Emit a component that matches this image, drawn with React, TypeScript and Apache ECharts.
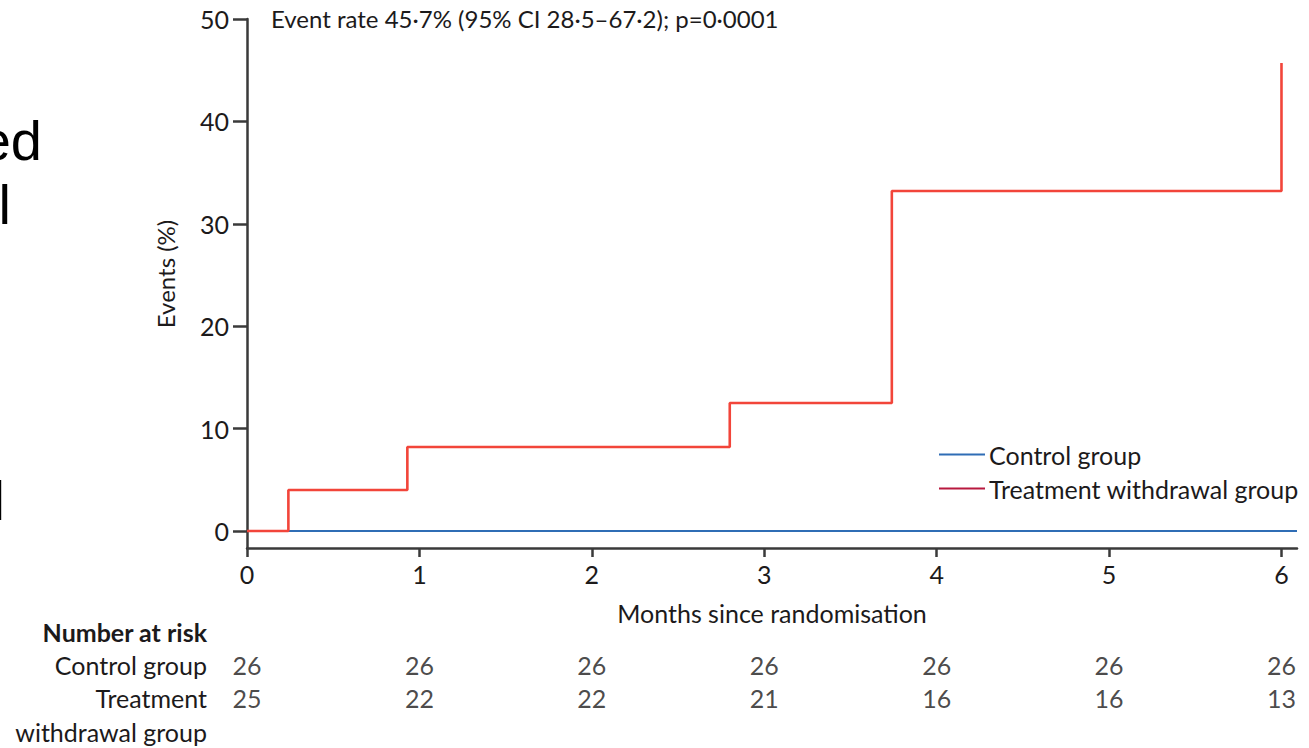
import React, { useEffect, useRef } from "react";
import * as echarts from "echarts";

// Kaplan–Meier style cumulative event curves
const monthTicks = [0, 1, 2, 3, 4, 5, 6];
const eventTicks = [0, 10, 20, 30, 40, 50];

const treatmentTimes = [0, 0.24, 0.93, 2.8, 3.74, 6.0];
const treatmentEvents = [0, 4.0, 8.2, 12.5, 33.2, 45.7];

const controlTimes = [0, 6.09];
const controlEvents = [0, 0];

// Number at risk at each month
const controlAtRisk = [26, 26, 26, 26, 26, 26, 26];
const treatmentAtRisk = [25, 22, 22, 21, 16, 16, 13];

const FONT = "Lato";
const TEXT = "#1c1a1b";
const AXIS = "#3a3a3a";
const FS = 25;

export default function App() {
  const ref = useRef<HTMLDivElement>(null);

  useEffect(() => {
    if (!ref.current) return;
    const chart = echarts.init(ref.current, undefined, { renderer: "svg" });

    const treatmentData = treatmentTimes.map((t, i) => [t, treatmentEvents[i]]);
    const controlData = controlTimes.map((t, i) => [t, controlEvents[i]]);
    const riskData = [
      ...monthTicks.map((m, i) => [m, 1, controlAtRisk[i]]),
      ...monthTicks.map((m, i) => [m, 0, treatmentAtRisk[i]]),
    ];

    const rowLabel = (text: string, y: number, bold = false) => ({
      type: "text",
      x: 207,
      y,
      style: {
        text,
        align: "right",
        verticalAlign: "middle",
        fontSize: FS,
        fontWeight: bold ? "bold" : "normal",
        fontFamily: FONT,
        fill: TEXT,
      },
    });

    const headingPiece = (text: string, x: number, y: number) => ({
      type: "text",
      x,
      y,
      style: {
        text,
        align: "right",
        verticalAlign: "top",
        fontSize: 56,
        fontFamily: "Liberation Sans",
        fill: "#000",
      },
    });

    chart.setOption({
      animation: false,
      textStyle: { fontFamily: FONT, color: TEXT },
      grid: [
        { left: 247, right: 12, top: 19, bottom: 200 },
        { left: 247, right: 12, top: 648.5, height: 66 },
      ],
      xAxis: [
        {
          type: "value",
          gridIndex: 0,
          min: 0,
          max: 6.09,
          name: "Months since randomisation",
          nameLocation: "middle",
          nameGap: 52,
          nameTextStyle: { fontSize: FS, color: TEXT, fontFamily: FONT },
          axisLine: { show: true, onZero: false, lineStyle: { color: AXIS, width: 2.5 } },
          axisTick: {
            show: true,
            inside: false,
            length: 9,
            customValues: monthTicks,
            lineStyle: { color: AXIS, width: 2.5 },
          },
          axisLabel: {
            customValues: monthTicks,
            fontSize: FS,
            color: TEXT,
            margin: 13,
            fontFamily: FONT,
          },
          splitLine: { show: false },
        },
        {
          type: "value",
          gridIndex: 1,
          min: 0,
          max: 6.09,
          show: false,
        },
      ],
      yAxis: [
        {
          type: "value",
          gridIndex: 0,
          min: -1.66,
          max: 50,
          axisLine: { show: true, onZero: false, lineStyle: { color: AXIS, width: 2.5 } },
          axisTick: {
            show: true,
            length: 14,
            customValues: eventTicks,
            lineStyle: { color: AXIS, width: 2.5 },
          },
          axisLabel: {
            customValues: eventTicks,
            fontSize: FS,
            color: TEXT,
            margin: 18,
            fontFamily: FONT,
          },
          splitLine: { show: false },
        },
        {
          type: "value",
          gridIndex: 1,
          min: -0.5,
          max: 1.5,
          show: false,
        },
      ],
      legend: {
        orient: "vertical",
        left: 934,
        top: 437,
        icon: "rect",
        itemWidth: 46,
        itemHeight: 2,
        itemGap: 9,
        textStyle: { fontSize: FS, color: TEXT, fontFamily: FONT, padding: [0, 0, 0, -1] },
        data: [
          { name: "Control group", itemStyle: { color: "#2f6db5" } },
          { name: "Treatment withdrawal group", itemStyle: { color: "#b8193f" } },
        ],
      },
      series: [
        {
          name: "Control group",
          type: "line",
          xAxisIndex: 0,
          yAxisIndex: 0,
          data: controlData,
          symbol: "none",
          lineStyle: { color: "#2f6db5", width: 2.2 },
          itemStyle: { color: "#2f6db5" },
          z: 2,
        },
        {
          name: "Treatment withdrawal group",
          type: "line",
          xAxisIndex: 0,
          yAxisIndex: 0,
          step: "end",
          data: treatmentData,
          symbol: "none",
          lineStyle: { color: "#f2453a", width: 2.6 },
          itemStyle: { color: "#f2453a" },
          z: 3,
        },
        {
          name: "Number at risk",
          type: "scatter",
          xAxisIndex: 1,
          yAxisIndex: 1,
          data: riskData,
          symbolSize: 1,
          itemStyle: { color: "rgba(0,0,0,0)" },
          label: {
            show: true,
            position: "inside",
            formatter: (p: any) => String(p.value[2]),
            fontSize: FS,
            color: TEXT,
            fontFamily: FONT,
          },
          silent: true,
        },
      ],
      graphic: [
        {
          type: "text",
          left: 271,
          top: 6,
          style: {
            text: "Event rate 45·7% (95% CI 28·5–67·2); p=0·0001",
            fontSize: 24,
            fontFamily: FONT,
            fill: TEXT,
          },
        },
        {
          type: "text",
          x: 165,
          y: 274,
          rotation: Math.PI / 2,
          style: {
            text: "Events (%)",
            align: "center",
            verticalAlign: "middle",
            fontSize: 24,
            fontFamily: FONT,
            fill: TEXT,
          },
        },
        rowLabel("Number at risk", 632, true),
        rowLabel("Control group", 665),
        rowLabel("Treatment", 698),
        rowLabel("withdrawal group", 732),
        // slide heading text running in from the left edge
        headingPiece("ed", 42, 112),
        headingPiece("l", 11, 176),
        headingPiece("l", 5, 472),
      ],
    });

    return () => chart.dispose();
  }, []);

  return (
    <div
      ref={ref}
      style={{ position: "absolute", left: 0, top: 0, width: 1309, height: 748, background: "#fff" }}
    />
  );
}
